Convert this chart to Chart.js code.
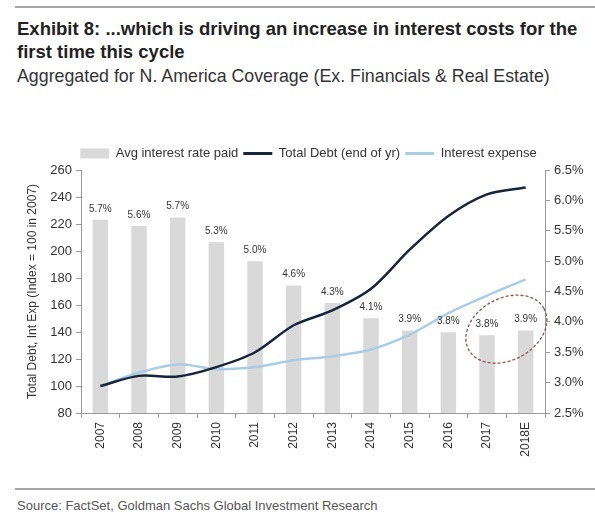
<!DOCTYPE html>
<html>
<head>
<meta charset="utf-8">
<script src="https://cdn.jsdelivr.net/npm/chart.js@4.4.1/dist/chart.umd.min.js"></script>
<style>
    body { margin: 0; background: #fff; width: 595px; height: 516px; position: relative; overflow: hidden; font-family: "Liberation Sans", Arial, sans-serif; }
    .rule { position: absolute; left: 15px; right: 0; height: 2px; background: #a6a6a6; }
    #title { position: absolute; left: 17px; top: 17px; font-size: 18.5px; font-weight: bold; line-height: 23px; color: #222; white-space: nowrap; }
    #subtitle { position: absolute; left: 17px; top: 65px; font-size: 17.8px; line-height: 22px; color: #333; white-space: nowrap; }
    #source { position: absolute; left: 17px; top: 498px; font-size: 13px; color: #555; }
    #wrap { position: absolute; left: 0; top: 135px; width: 595px; height: 345px; }
</style>
</head>
<body>
<div class="rule" style="top:6px"></div>
<div id="title">Exhibit 8: ...which is driving an increase in interest costs for the<br>first time this cycle</div>
<div id="subtitle">Aggregated for N. America Coverage (Ex. Financials &amp; Real Estate)</div>
<div id="wrap"><canvas id="myChart"></canvas></div>
<div class="rule" style="top:488px"></div>
<div id="source">Source: FactSet, Goldman Sachs Global Investment Research</div>

<script>
// ---------------------------------- data ----------------------------------
const years = ["2007", "2008", "2009", "2010", "2011", "2012", "2013", "2014", "2015", "2016", "2017", "2018E"];
const avgRate = [5.68, 5.58, 5.72, 5.31, 5.0, 4.6, 4.31, 4.06, 3.86, 3.83, 3.78, 3.86];
const totalDebt = [100, 107.5, 107, 114, 125, 145, 156, 172, 201, 226, 242, 247];
const interestExpense = [100, 110, 116, 112.5, 114, 119, 122, 127, 138, 154, 167, 179];
const leftTicks = [80, 100, 120, 140, 160, 180, 200, 220, 240, 260];
const rightTicks = [2.5, 3.0, 3.5, 4.0, 4.5, 5.0, 5.5, 6.0, 6.5];

const axisGrey = "#9a9a9a";
const textColor = "#333";
const fontFamily = "'Liberation Sans', Arial, sans-serif";

// ---------------------------------- bar labels ----------------------------------
const barLabels = {
    id: "barLabels",
    afterDatasetsDraw(chart) {
        const ctx = chart.ctx;
        const meta = chart.getDatasetMeta(0);
        ctx.save();
        ctx.font = "10px " + fontFamily;
        ctx.fillStyle = textColor;
        ctx.textAlign = "center";
        ctx.textBaseline = "bottom";
        meta.data.forEach((bar, i) => {
            ctx.fillText(avgRate[i].toFixed(1) + "%", bar.x, bar.y - 6);
        });
        ctx.restore();
    }
};

// ---------------------------------- dashed ellipse round 2017 / 2018E ----------------------------------
const circleLast = {
    id: "circleLast",
    afterDatasetsDraw(chart) {
        const x = chart.scales.x;
        const yr = chart.scales.yRight;
        const x1 = x.getPixelForValue(years.length - 2);
        const x2 = x.getPixelForValue(years.length - 1);
        const step = x2 - x1;
        const ctx = chart.ctx;
        ctx.save();
        ctx.strokeStyle = "#8a5555";
        ctx.lineWidth = 1.3;
        ctx.setLineDash([3, 2]);
        ctx.beginPath();
        ctx.ellipse((x1 + x2) / 2, yr.getPixelForValue(3.88), step * 1.11, step * 0.8, -0.5, 0, Math.PI * 2);
        ctx.stroke();
        ctx.restore();
    }
};

const ctx = document.getElementById("myChart");

new Chart(ctx, {
    type: "bar",
    data: {
        labels: years,
        datasets: [
            {
                label: "Avg interest rate paid",
                data: avgRate,
                yAxisID: "yRight",
                backgroundColor: "#d9d9d9",
                categoryPercentage: 1,
                barPercentage: 0.4,
                order: 3
            },
            {
                type: "line",
                label: "Total Debt (end of yr)",
                data: totalDebt,
                yAxisID: "y",
                borderColor: "#17243a",
                backgroundColor: "#17243a",
                borderWidth: 2.5,
                pointRadius: 0,
                tension: 0.3,
                order: 1
            },
            {
                type: "line",
                label: "Interest expense",
                data: interestExpense,
                yAxisID: "y",
                borderColor: "#a9cde5",
                backgroundColor: "#a9cde5",
                borderWidth: 2.5,
                pointRadius: 0,
                tension: 0.3,
                order: 2
            }
        ]
    },
    options: {
        responsive: true,
        maintainAspectRatio: false,
        animation: false,
        layout: { padding: { top: 7, right: 0, left: 22, bottom: 0 } },
        plugins: {
            tooltip: { enabled: false },
            legend: {
                position: "top",
                labels: {
                    color: textColor,
                    font: { size: 13, family: fontFamily },
                    usePointStyle: true,
                    pointStyleWidth: 29,
                    boxHeight: 10,
                    padding: 5,
                    generateLabels(chart) {
                        return chart.data.datasets.map((ds, i) => ({
                            text: ds.label,
                            fillStyle: ds.backgroundColor,
                            strokeStyle: ds.type === "line" ? ds.borderColor : ds.backgroundColor,
                            lineWidth: ds.type === "line" ? 3 : 0,
                            pointStyle: ds.type === "line" ? "line" : "rect",
                            fontColor: textColor,
                            datasetIndex: i
                        }));
                    }
                }
            }
        },
        scales: {
            x: {
                grid: { drawOnChartArea: false, color: axisGrey, tickLength: 5 },
                border: { color: axisGrey },
                ticks: {
                    color: textColor,
                    font: { size: 12, family: fontFamily },
                    minRotation: 90,
                    maxRotation: 90,
                    padding: 4
                },
                afterFit(scale) { scale.height = 67; }
            },
            y: {
                position: "left",
                min: leftTicks[0],
                max: leftTicks[leftTicks.length - 1],
                afterBuildTicks(scale) { scale.ticks = leftTicks.map(v => ({ value: v })); },
                grid: { drawOnChartArea: false, color: axisGrey, tickLength: 5 },
                border: { color: axisGrey },
                ticks: {
                    color: textColor,
                    font: { size: 13, family: fontFamily },
                    padding: 4
                },
                title: {
                    display: true,
                    text: "Total Debt, Int Exp (Index = 100 in 2007)",
                    color: textColor,
                    font: { size: 12, family: fontFamily },
                    padding: { top: 3, bottom: 0 }
                },
                afterFit(scale) { scale.width = 59; }
            },
            yRight: {
                position: "right",
                min: rightTicks[0],
                max: rightTicks[rightTicks.length - 1],
                afterBuildTicks(scale) { scale.ticks = rightTicks.map(v => ({ value: v })); },
                grid: { drawOnChartArea: false, color: axisGrey, tickLength: 5 },
                border: { color: axisGrey },
                ticks: {
                    color: textColor,
                    font: { size: 13, family: fontFamily },
                    padding: 4,
                    callback: v => v.toFixed(1) + "%"
                },
                afterFit(scale) { scale.width = 50; }
            }
        }
    },
    plugins: [barLabels, circleLast]
});
</script>
</body>
</html>
